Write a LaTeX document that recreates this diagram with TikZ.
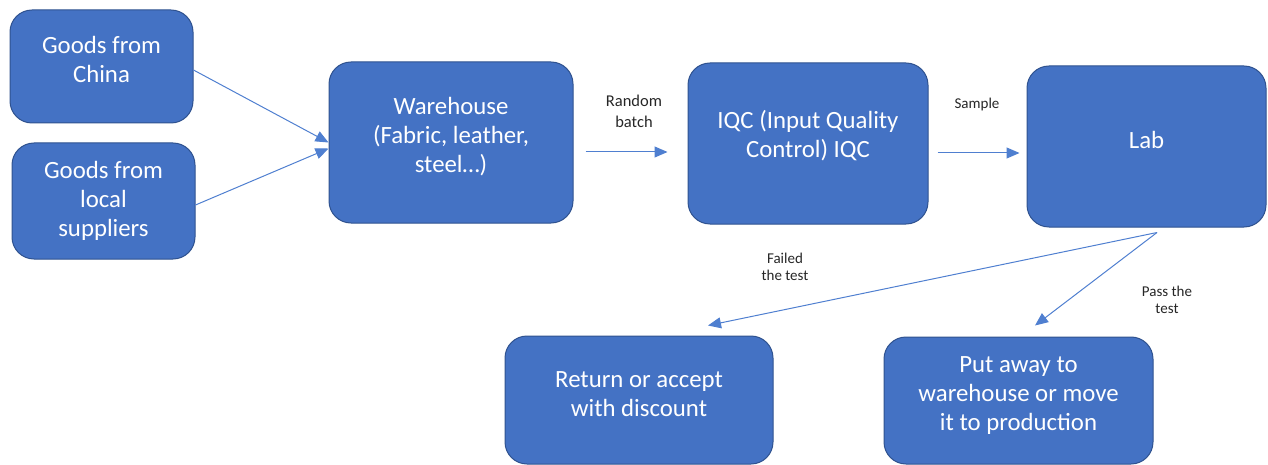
\documentclass[tikz,border=0pt]{standalone}
\usepackage{fontspec}
\setmainfont{Carlito}
\usetikzlibrary{arrows.meta}
\definecolor{boxfill}{HTML}{4472C4}
\definecolor{boxline}{HTML}{2F528F}
\definecolor{flow}{HTML}{4F7FD0}
\definecolor{notecol}{HTML}{262626}
\tikzset{
  stage/.style={draw=boxline, fill=boxfill, line width=1pt, rounded corners=22pt,
    inner sep=0pt},
  stagetext/.style={text=white, align=center, inner sep=0pt,
    font=\fontsize{24.8}{29}\selectfont},
  note/.style={text=notecol, align=center, inner sep=0pt,
    font=\fontsize{15}{18}\selectfont},
  flowarrow/.style={draw=flow, line width=1pt,
    -{Triangle[length=13pt,width=11pt]}}
}
\begin{document}
\begin{tikzpicture}[x=1pt,y=-1pt]
\useasboundingbox (0,0) rectangle (1268,465);

% process stages
\node[stage, minimum width=183pt, minimum height=113pt] (china) at (101.5,66.5) {};
\node[stage, minimum width=183pt, minimum height=116pt] (local) at (103.5,201) {};
\node[stage, minimum width=244pt, minimum height=161pt] (wh) at (451,142.5) {};
\node[stage, minimum width=240pt, minimum height=161pt] (iqc) at (808,143.5) {};
\node[stage, minimum width=239pt, minimum height=161pt] (lab) at (1146.5,146.5) {};
\node[stage, minimum width=268pt, minimum height=128pt] (ret) at (639,400) {};
\node[stage, minimum width=269pt, minimum height=127pt] (put) at (1018.5,400.5) {};

% stage captions
\node[stagetext] (chinaT) at ([yshift=7pt]china.center) {Goods from\\China};
\node[stagetext] (localT) at ([yshift=0.5pt]local.center) {Goods from\\local\\suppliers};
\node[stagetext] (whT) at ([yshift=6pt]wh.center) {Warehouse\\(Fabric, leather,\\steel…)};
\node[stagetext] (iqcT) at ([yshift=7.5pt]iqc.center) {IQC (Input Quality\\Control) IQC};
\node[stagetext] (labT) at ([yshift=7pt]lab.center) {Lab};
\node[stagetext] (retT) at ([yshift=6pt]ret.center) {Return or accept\\with discount};
\node[stagetext] (putT) at ([yshift=4.5pt]put.center) {Put away to\\warehouse or move\\it to production};

% connectors
\draw[flowarrow] ([yshift=-3.5pt]china.east) -- ([yshift=0pt]wh.west);
\draw[flowarrow] ([yshift=-4pt]local.east) -- ([yshift=-6pt]wh.west);

\coordinate (batchA) at ([xshift=12pt,yshift=-9.5pt]wh.east);
\coordinate (batchB) at ([xshift=-20pt,yshift=-8.5pt]iqc.west);
\draw[flowarrow] (batchA) -- (batchB);

\coordinate (sampleA) at ([xshift=9pt,yshift=-9.5pt]iqc.east);
\coordinate (sampleB) at ([xshift=-7pt,yshift=-6.5pt]lab.west);
\draw[flowarrow] (sampleA) -- (sampleB);

\coordinate (labOut) at ([xshift=10.5pt,yshift=-5pt]lab.south);
\coordinate (failTip) at ([xshift=69pt,yshift=10pt]ret.north);
\coordinate (passTip) at ([xshift=16.5pt,yshift=11pt]put.north);
\draw[flowarrow] (labOut) -- (failTip);
\draw[flowarrow] (labOut) -- (passTip);

% connector labels
\node[note, font=\fontsize{16.5}{21}\selectfont] (batchL) at (634,111) {Random\\batch};
\node[note] (sampleL) at (977,105) {Sample};
\node[note, font=\fontsize{15}{17}\selectfont] (failL) at (785,266.5) {Failed\\the test};
\node[note, font=\fontsize{15}{17}\selectfont] (passL) at (1167,299.5) {Pass the\\test};
\end{tikzpicture}
\end{document}
